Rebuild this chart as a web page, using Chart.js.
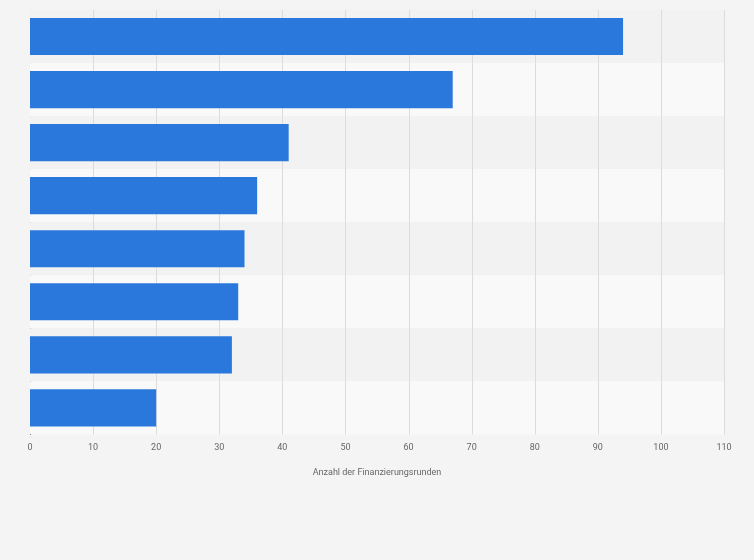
<!DOCTYPE html>
<html>
<head>
<meta charset="utf-8">
<script src="https://cdn.jsdelivr.net/npm/chart.js@4"></script>
<style>
  html, body { margin: 0; padding: 0; background: #f4f4f4; }
  #wrap { width: 754px; height: 560px; }
</style>
</head>
<body>
<div id="wrap"><canvas id="grafico"></canvas></div>
<script>
const categorias = ['1', '2', '3', '4', '5', '6', '7', '8'];
const valores = [94, 67, 41, 36, 34, 33, 32, 20];
const xTicks = [0, 10, 20, 30, 40, 50, 60, 70, 80, 90, 100, 110];

// faixas alternadas atrás das barras
const faixas = {
    id: 'faixas',
    beforeDatasetsDraw(chart) {
        const { ctx, chartArea, scales } = chart;
        const n = categorias.length;
        const h = (chartArea.bottom - chartArea.top) / n;
        ctx.save();
        for (let i = 0; i < n; i++) {
            ctx.fillStyle = i % 2 === 0 ? '#f2f2f2' : '#f9f9f9';
            ctx.fillRect(chartArea.left, chartArea.top + i * h, chartArea.right - chartArea.left, h);
        }
        // grid por cima das faixas
        ctx.strokeStyle = '#dcdcdc';
        ctx.lineWidth = 1;
        xTicks.forEach(t => {
            if (t === 0) return;
            const x = Math.round(scales.x.getPixelForValue(t)) + 0.5;
            ctx.beginPath();
            ctx.moveTo(x, chartArea.top);
            ctx.lineTo(x, chartArea.bottom);
            ctx.stroke();
        });
        ctx.restore();
    }
};

new Chart(document.getElementById('grafico'), {
    type: 'bar',
    data: {
        labels: categorias,
        datasets: [{
            data: valores,
            backgroundColor: '#2a78dc',
            categoryPercentage: 0.7,
            barPercentage: 1
        }]
    },
    options: {
        indexAxis: 'y',
        responsive: true,
        maintainAspectRatio: false,
        animation: false,
        layout: { padding: { left: 30, right: 30, top: 10, bottom: 78 } },
        plugins: { legend: { display: false }, tooltip: { enabled: false } },
        scales: {
            x: {
                min: 0, max: 110,
                afterBuildTicks: s => { s.ticks = xTicks.map(v => ({ value: v })); },
                grid: { display: false, drawTicks: false },
                border: { display: false },
                ticks: { color: '#666', font: { family: 'Roboto', size: 9 }, padding: 8 },
                title: { display: true, text: 'Anzahl der Finanzierungsrunden', color: '#666', font: { family: 'Roboto', size: 9 }, padding: { top: 6 } }
            },
            y: {
                afterFit: s => { s.width = 0; },
                ticks: { display: false },
                grid: { display: false, drawTicks: false },
                border: { display: true, color: '#333', width: 1 }
            }
        }
    },
    plugins: [faixas]
});
</script>
</body>
</html>
